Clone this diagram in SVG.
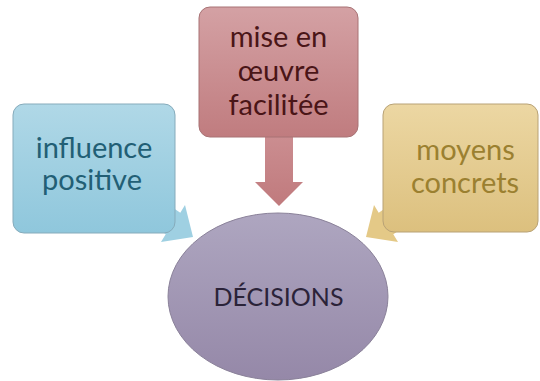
<svg xmlns="http://www.w3.org/2000/svg" width="540" height="381" viewBox="0 0 540 381">
  <defs>
    <linearGradient id="gBlue" x1="0" y1="0" x2="0" y2="1">
      <stop offset="0" stop-color="#b0d8e7"/>
      <stop offset="1" stop-color="#8fc7dc"/>
    </linearGradient>
    <linearGradient id="gRed" x1="0" y1="0" x2="0" y2="1">
      <stop offset="0" stop-color="#d4a1a4"/>
      <stop offset="1" stop-color="#c07c7f"/>
    </linearGradient>
    <linearGradient id="gGold" x1="0" y1="0" x2="0" y2="1">
      <stop offset="0" stop-color="#ecd7a3"/>
      <stop offset="1" stop-color="#dcc07e"/>
    </linearGradient>
    <linearGradient id="gPurple" x1="0" y1="0" x2="0" y2="1">
      <stop offset="0" stop-color="#aea6c0"/>
      <stop offset="1" stop-color="#9588a8"/>
    </linearGradient>
    <linearGradient id="gRedArrow" x1="0" y1="0" x2="0" y2="1">
      <stop offset="0" stop-color="#cc8f92"/>
      <stop offset="1" stop-color="#c07a7d"/>
    </linearGradient>
  </defs>
  <style>
    .box { stroke-width: 1; }
    .lbl { font-family: Lato, "Liberation Sans", sans-serif; font-size: 29px; text-anchor: middle; }
    .center { font-family: Lato, "Liberation Sans", sans-serif; font-size: 25px; text-anchor: middle; fill: #2b2339; }
  </style>
  <g id="connectors">
    <polygon id="arrow-left" fill="#9fd0e2" points="132.7,211.9 147.3,190.3 180.3,212.7 185,205 193,237 161,242 165.7,234.3"/>
    <polygon id="arrow-top" fill="url(#gRedArrow)" points="265,130 293,130 293,182 303,182 279,206 255,182 265,182"/>
    <polygon id="arrow-right" fill="#e4c987" points="426.3,211.9 411.7,190.3 378.7,212.7 374,205 366,237 398,242 393.3,234.3"/>
  </g>
  <g id="node-influence">
    <rect class="box" x="13" y="104" width="162" height="129" rx="11" fill="url(#gBlue)" stroke="#86abbb"/>
    <text class="lbl" fill="#225f75"><tspan x="94" y="158">influence</tspan><tspan x="92" y="190">positive</tspan></text>
  </g>
  <g id="node-mise">
    <rect class="box" x="199" y="7" width="159" height="130" rx="11" fill="url(#gRed)" stroke="#a87375"/>
    <text class="lbl" fill="#4a1517"><tspan x="278.5" y="47">mise en</tspan><tspan x="278.5" y="81">œuvre</tspan><tspan x="278.5" y="115">facilitée</tspan></text>
  </g>
  <g id="node-moyens">
    <rect class="box" x="383" y="104" width="155" height="128" rx="11" fill="url(#gGold)" stroke="#b8a276"/>
    <text class="lbl" fill="#9b8030"><tspan x="465.5" y="160">moyens</tspan><tspan x="465" y="193">concrets</tspan></text>
  </g>
  <g id="node-decisions">
    <ellipse cx="278" cy="296.5" rx="110" ry="83.5" fill="url(#gPurple)" stroke="#8a8199" stroke-width="1"/>
    <text class="center" x="278.5" y="306">DÉCISIONS</text>
  </g>
</svg>
